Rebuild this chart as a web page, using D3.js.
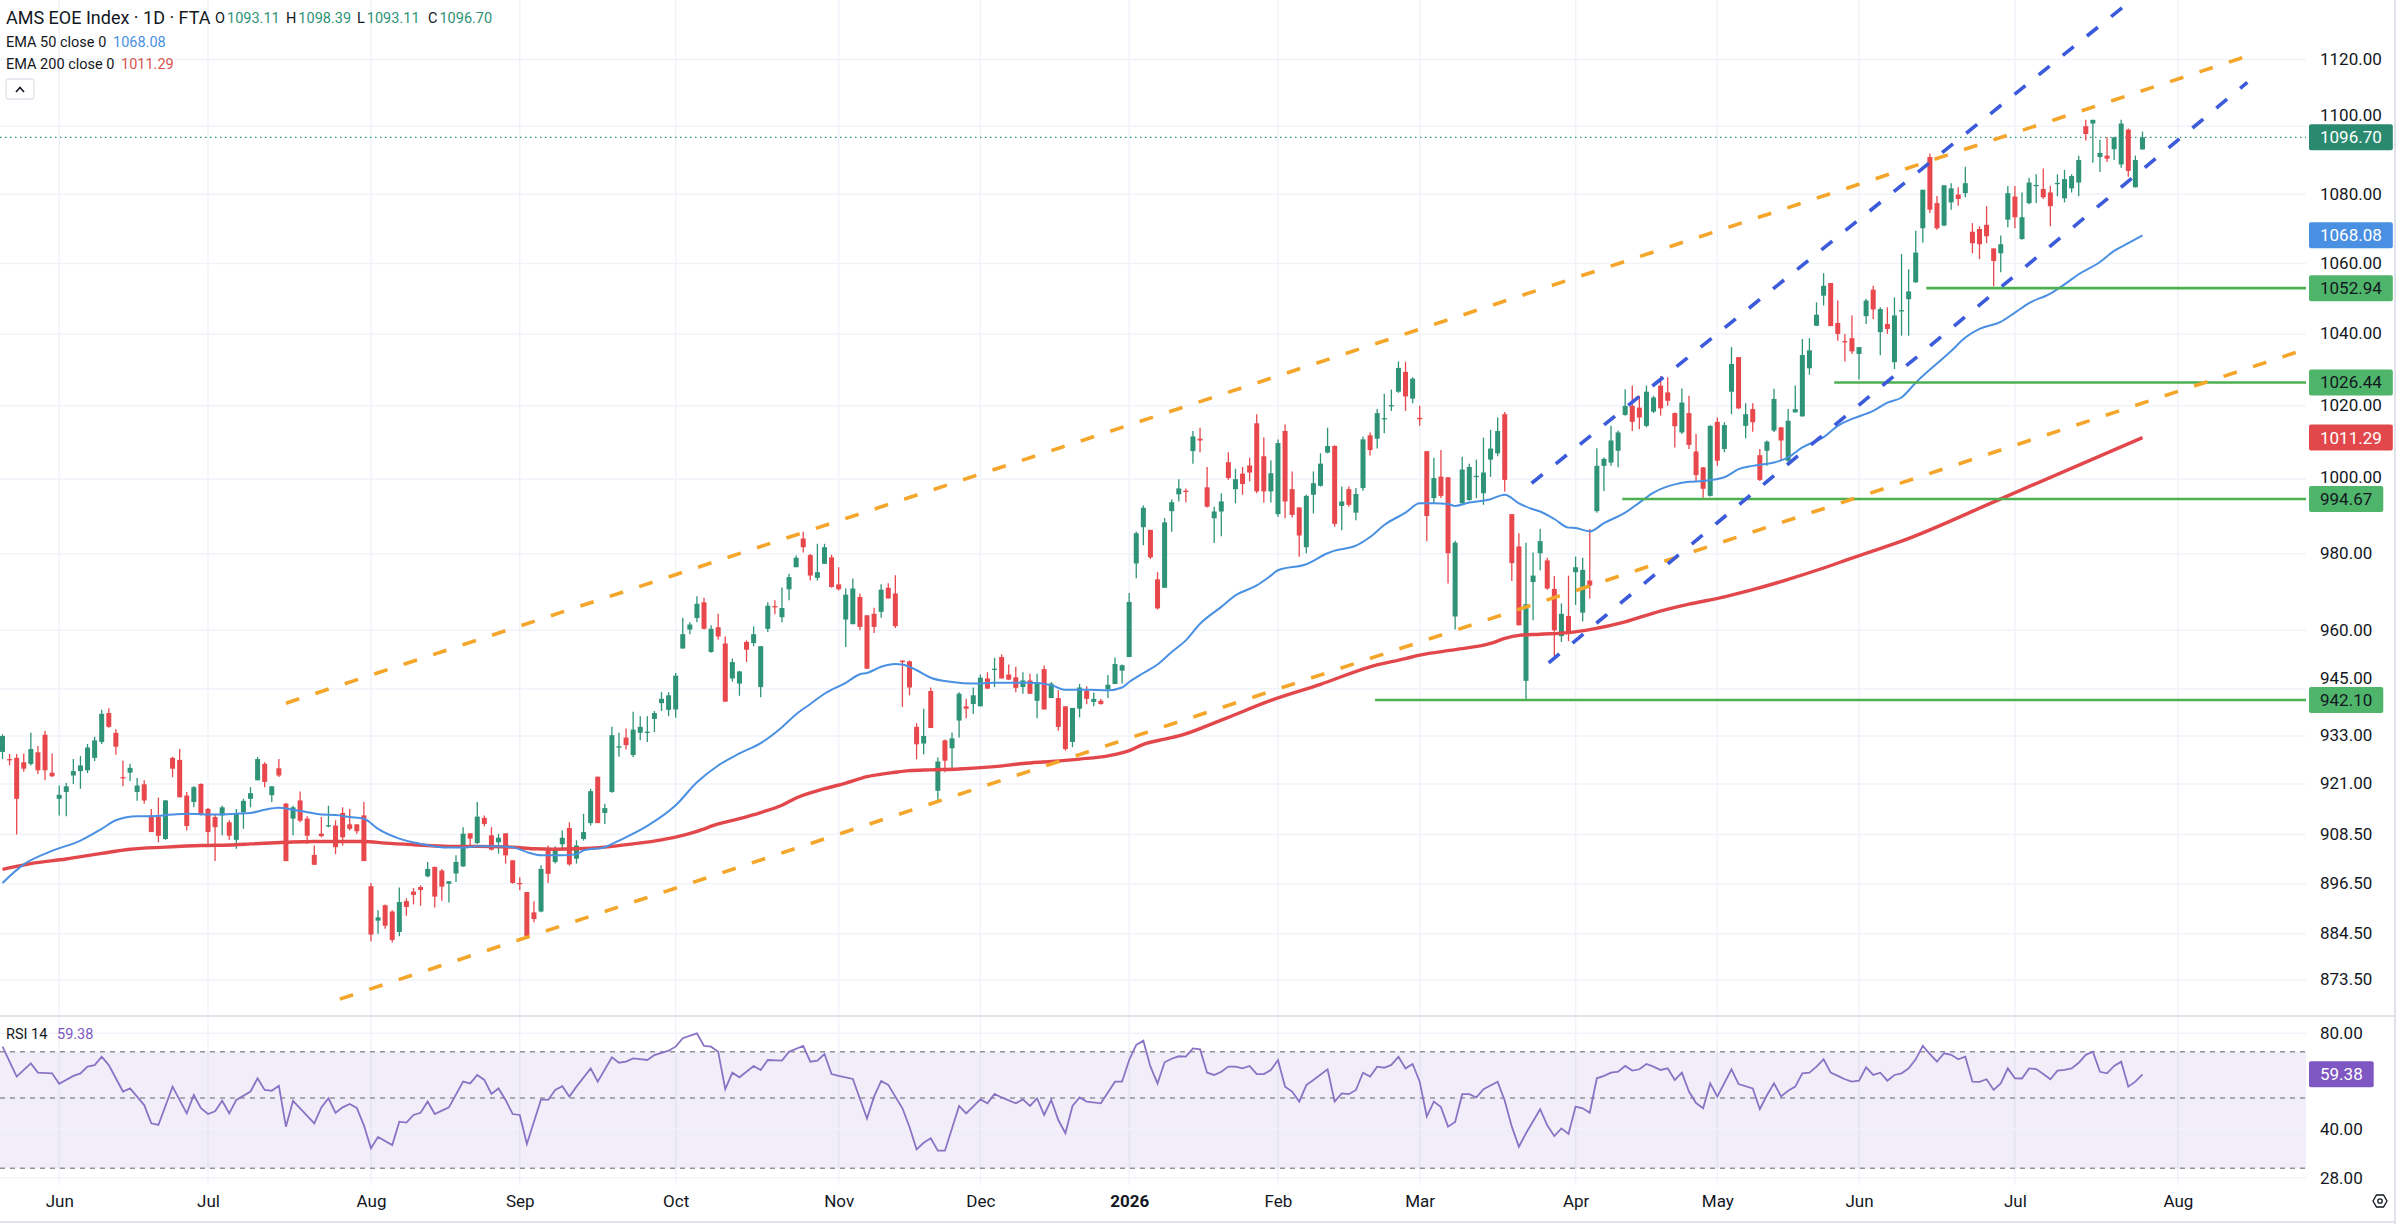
<!DOCTYPE html>
<html>
<head>
<meta charset="utf-8">
<script src="https://cdn.jsdelivr.net/npm/d3@7"></script>
<style>
  html, body { margin: 0; padding: 0; background: #ffffff; }
  svg { display: block; font-family: Roboto, "Noto Sans", "DejaVu Sans", sans-serif; }
</style>
</head>
<body>
<svg id="chart" width="2400" height="1224"></svg>
<script>
// ---------------- DATA ----------------
const firstTradingDay = "2025-05-21";
const holidays = ["2025-12-25", "2025-12-26", "2026-01-01", "2026-04-03", "2026-04-06", "2026-05-01"];

const open = [
929.0,927.2,927.5,926.4,926.0,928.9,933.3,923.8,917.3,919.0,
923.1,924.2,924.4,927.5,931.5,938.8,933.8,922.7,923.8,919.0,
920.9,913.2,912.8,907.4,927.5,927.0,918.1,916.5,921.0,914.8,
912.8,913.2,911.5,907.2,914.0,917.3,921.9,926.0,918.2,924.9,
916.1,912.4,916.9,912.4,903.5,908.7,910.6,910.7,913.8,911.0,
911.0,913.2,895.9,887.6,891.3,889.8,884.9,892.3,894.6,895.7,
898.3,900.6,899.7,896.5,899.0,900.7,908.8,906.4,912.6,908.3,
906.6,908.8,902.2,896.7,894.5,889.6,889.8,905.2,901.8,906.1,
910.1,902.6,907.4,911.3,922.8,913.8,919.0,930.3,932.6,928.2,
933.8,934.0,937.3,941.3,939.6,939.7,955.3,960.2,963.2,967.3,
954.4,960.8,956.6,947.6,946.3,957.0,956.7,945.4,960.4,966.3,
963.4,970.7,976.5,984.1,979.7,973.7,977.4,979.1,972.0,962.8,
961.6,968.7,963.9,964.3,964.8,971.1,969.6,952.2,952.0,935.3,
931.1,944.4,919.3,931.9,929.9,936.9,940.5,941.1,940.5,947.6,
950.0,953.1,948.6,947.9,945.4,947.1,941.9,950.0,942.6,942.6,
940.5,931.5,939.9,944.4,941.6,941.9,944.9,946.2,949.6,953.1,
977.5,987.1,986.4,973.3,971.1,991.4,995.9,996.9,1007.6,1011.0,
997.8,989.5,991.3,1004.6,997.3,1001.5,1003.7,1015.2,1006.2,996.7,
990.6,1013.1,997.3,992.4,981.8,995.8,998.2,1007.2,1009.0,992.8,
997.3,991.0,997.6,1011.9,1011.0,1016.4,1020.0,1023.9,1029.4,1022.0,
1016.7,1007.6,994.9,1000.7,1000.5,963.6,993.5,994.4,1000.7,996.2,
1005.3,1007.0,1017.7,990.6,982.0,947.0,972.6,980.2,978.3,970.8,
958.5,963.7,975.2,964.6,973.0,991.4,1003.6,1004.5,1007.7,1017.5,
1020.0,1019.5,1014.5,1018.4,1025.6,1023.7,1018.0,1012.7,1018.0,1007.5,
1003.2,995.5,1015.6,1008.2,1023.9,1033.5,1014.5,1019.1,1006.5,1007.7,
1013.2,1014.1,1005.0,1018.2,1017.1,1030.4,1042.3,1050.8,1054.4,1043.1,
1038.0,1038.8,1034.4,1045.0,1052.5,1040.5,1042.8,1032.1,1046.5,1049.8,
1054.6,1070.1,1090.9,1077.4,1070.9,1077.6,1079.9,1080.3,1069.1,1069.9,
1071.1,1064.3,1062.9,1072.6,1079.3,1067.0,1077.4,1082.5,1081.5,1080.5,
1083.1,1078.8,1081.7,1083.4,1100.0,1100.8,1090.9,1091.3,1093.2,1088.7,
1099.0,1082.0,1093.11
];
const high = [
933.4,928.5,928.5,928.6,933.8,930.5,934.3,928.6,920.6,921.2,
927.2,928.0,931.0,932.8,939.6,940.0,934.7,926.8,926.0,922.5,
921.9,914.8,917.6,917.0,927.8,929.7,919.0,920.4,921.1,915.0,
913.6,915.6,912.0,914.8,917.3,920.2,927.7,926.4,920.4,927.2,
916.3,915.6,919.1,913.0,905.8,912.8,915.6,912.0,915.2,914.8,
911.0,916.5,896.7,890.1,891.5,890.1,895.6,893.0,895.5,896.1,
901.8,900.6,900.1,897.1,903.4,910.3,908.8,916.5,913.2,910.3,
908.7,908.8,902.2,898.1,894.5,892.3,901.0,905.8,905.6,909.5,
911.5,907.1,913.6,919.8,922.8,916.1,935.3,933.8,934.9,939.1,
938.0,938.0,939.3,944.1,944.1,949.0,963.3,962.1,968.9,968.5,
961.3,964.3,958.4,952.7,949.6,957.4,961.0,955.9,967.3,967.8,
971.2,974.8,979.6,985.9,980.0,982.7,982.7,979.8,976.5,970.9,
973.5,969.6,963.9,965.9,972.0,972.3,974.4,952.2,952.2,936.2,
939.9,945.3,927.6,932.1,933.9,944.1,942.4,945.3,948.6,949.2,
952.9,953.8,951.2,950.6,949.2,948.8,948.8,950.9,946.7,944.6,
940.5,940.1,946.2,945.6,944.0,942.4,948.5,953.0,951.2,969.7,
985.9,992.9,986.4,975.2,989.6,994.5,1000.0,997.5,1013.1,1014.0,
1003.3,992.6,996.2,1007.3,1002.8,1003.3,1005.8,1017.7,1011.3,1005.1,
1010.8,1014.9,1002.1,992.4,995.8,1002.1,1007.0,1014.0,1009.2,998.0,
998.0,997.6,1011.6,1012.7,1019.1,1023.3,1024.5,1032.3,1032.2,1027.9,
1020.0,1007.6,1005.8,1007.9,1000.5,983.5,1006.1,1004.2,1005.3,1011.3,
1013.4,1016.8,1018.3,990.6,985.5,983.0,980.4,986.7,979.0,974.2,
967.0,974.3,979.3,979.0,986.6,1008.4,1005.9,1014.5,1013.2,1024.6,
1025.6,1022.8,1025.6,1022.8,1028.2,1027.9,1018.2,1024.8,1022.8,1012.3,
1003.2,1014.7,1016.8,1015.5,1036.3,1033.5,1020.7,1020.7,1008.2,1010.5,
1024.7,1014.1,1019.1,1025.6,1038.6,1038.8,1048.9,1057.2,1054.4,1049.4,
1040.0,1045.2,1036.3,1049.9,1053.6,1047.5,1047.5,1050.3,1062.7,1058.3,
1069.4,1081.3,1091.9,1079.5,1082.6,1083.2,1082.0,1088.0,1071.6,1070.7,
1076.5,1064.3,1068.0,1082.4,1082.4,1080.5,1084.8,1085.8,1087.5,1082.4,
1085.8,1087.1,1085.8,1091.3,1101.9,1101.9,1096.0,1096.7,1096.9,1101.9,
1099.3,1091.3,1098.39
];
const low = [
927.2,925.6,908.5,924.0,925.6,923.5,922.0,922.7,913.2,913.0,
921.0,919.8,923.7,926.7,931.0,935.1,928.3,920.4,921.7,916.8,
916.1,909.1,906.6,907.2,922.7,917.6,909.5,915.2,913.2,905.8,
902.0,908.3,907.2,905.0,909.9,915.2,921.9,920.2,916.5,922.7,
902.0,908.3,911.5,906.2,901.1,907.8,910.3,903.7,905.8,909.5,
908.7,902.0,882.6,884.5,885.7,882.4,883.9,888.8,891.5,891.2,
898.1,890.8,892.4,892.0,896.9,900.6,905.4,906.2,910.5,904.6,
903.8,901.4,896.5,894.9,883.7,887.2,889.6,896.7,901.4,904.6,
900.9,901.4,907.0,910.7,911.3,911.1,918.8,927.8,929.6,927.7,
931.9,931.5,934.0,939.3,938.0,937.6,955.3,959.0,962.1,960.2,
954.2,957.6,941.6,946.8,943.2,951.8,955.9,942.8,959.6,964.2,
962.1,967.8,976.5,980.4,973.0,973.0,977.4,971.1,970.4,955.7,
961.6,960.0,950.1,959.3,963.3,968.3,960.6,940.3,943.3,927.1,
928.4,935.0,916.8,923.9,924.5,932.6,937.5,938.6,940.5,945.0,
945.4,947.6,947.3,944.1,943.7,943.7,937.5,939.7,942.6,934.3,
929.3,930.2,937.7,941.0,940.5,940.9,942.6,946.2,946.3,953.1,
973.6,982.3,978.7,965.4,971.1,985.9,994.0,993.8,1004.2,1007.3,
992.4,982.9,984.7,999.8,993.5,995.8,999.4,996.2,993.7,993.7,
989.9,989.5,989.7,979.3,980.2,990.8,998.0,1007.0,987.2,986.3,
992.6,989.0,996.9,1006.4,1008.3,1012.5,1018.6,1023.6,1018.6,1020.7,
1014.5,983.4,993.5,994.9,972.2,960.2,993.1,994.2,994.9,993.1,
1000.6,1006.2,996.7,972.9,961.3,942.1,962.6,975.7,970.6,953.4,
957.0,957.2,966.6,962.3,968.3,991.0,996.8,1003.6,1003.2,1017.3,
1013.1,1013.6,1014.1,1018.0,1017.3,1020.0,1008.6,1012.3,1008.2,999.5,
995.0,995.3,1003.6,1007.3,1017.7,1019.1,1011.1,1012.9,999.5,1003.6,
1012.8,1005.0,1004.5,1018.2,1017.1,1028.6,1042.2,1048.0,1042.2,1038.1,
1032.3,1034.4,1027.3,1042.8,1044.2,1034.0,1040.0,1030.2,1039.5,1039.5,
1054.5,1066.0,1074.5,1069.7,1070.7,1075.5,1076.6,1079.1,1062.9,1061.2,
1065.8,1053.5,1057.5,1070.4,1070.1,1066.8,1077.1,1077.4,1078.6,1070.7,
1079.4,1077.6,1080.5,1079.4,1095.8,1089.2,1086.5,1089.4,1090.0,1087.7,
1085.1,1082.0,1093.11
];
const close = [
933.0,927.0,917.3,924.8,929.7,924.4,924.4,922.9,918.3,920.4,
924.2,925.6,930.1,931.9,938.6,935.3,930.3,922.6,925.0,920.6,
916.9,909.1,908.2,916.9,924.8,917.7,910.6,920.2,913.4,909.1,
910.3,915.2,908.2,913.8,916.8,918.7,927.2,921.5,920.4,923.1,
902.0,915.2,911.9,908.2,901.1,908.1,910.8,905.4,907.8,909.9,
909.3,902.0,884.3,888.4,886.4,883.0,892.1,890.9,893.8,895.0,
900.1,893.4,895.8,897.1,901.8,908.7,907.5,912.9,911.1,904.8,
907.7,903.4,896.7,896.6,883.9,888.0,900.1,898.9,904.6,907.7,
901.2,905.8,909.1,919.2,911.3,915.0,933.2,930.4,930.7,934.6,
935.3,934.1,938.8,942.4,943.3,948.3,959.0,961.5,966.9,960.4,
960.4,958.4,941.7,951.8,949.4,955.0,959.0,955.9,966.4,966.2,
965.8,973.9,979.0,981.8,974.3,975.2,981.8,971.3,970.7,969.3,
970.9,960.9,950.1,960.9,970.6,968.3,961.1,951.8,945.3,930.9,
933.0,935.0,926.6,926.8,932.4,943.7,939.9,943.3,947.8,945.0,
950.1,947.6,947.3,945.2,947.1,943.7,946.7,939.7,946.3,935.3,
929.7,940.1,945.3,942.4,942.4,941.1,946.0,951.3,951.0,967.4,
985.5,992.3,979.1,965.7,988.4,993.8,997.5,996.6,1011.6,1010.5,
992.6,991.3,994.0,1000.3,1000.0,998.7,1001.8,996.7,996.7,1001.6,
1009.8,994.0,990.4,984.9,995.5,998.9,1004.2,1009.0,988.0,994.0,
993.1,996.0,1010.8,1007.9,1018.0,1016.6,1020.2,1030.5,1022.6,1027.5,
1016.3,990.1,1000.3,995.5,980.2,983.0,1002.6,1003.3,1000.9,1001.8,
1008.3,1013.1,999.8,977.6,961.3,966.8,974.3,983.4,970.9,960.0,
964.3,959.4,976.5,975.8,971.7,1003.6,1005.5,1010.5,1012.7,1020.0,
1015.6,1016.8,1023.9,1022.3,1019.3,1021.4,1014.4,1020.9,1009.3,1001.1,
997.4,1014.5,1005.0,1014.7,1031.6,1019.3,1017.7,1015.5,999.8,1010.2,
1021.9,1010.5,1015.9,1019.1,1034.1,1035.4,1045.4,1053.6,1042.2,1040.0,
1037.9,1035.1,1036.3,1049.4,1046.9,1047.0,1041.4,1045.2,1046.7,1052.0,
1063.1,1081.3,1075.5,1070.1,1082.6,1081.7,1078.6,1083.2,1065.8,1065.5,
1067.8,1060.7,1065.5,1080.3,1073.3,1073.3,1083.4,1082.7,1079.1,1076.5,
1083.3,1084.4,1085.3,1090.0,1097.7,1101.9,1092.1,1090.4,1096.7,1100.8,
1086.8,1090.0,1096.70
];

// EMA 50 (bar index, value)
const ema50Idx = [0,3,7,11,14,16,19,21,24,26,30,33,35,37,39,41,43,45,47,49,51,53,56,59,63,65,67,70,72,74,76,79,81,82,85,87,91,95,98,101,104,107,110,112,114,116,119,121,122,124,126,127,129,131,134,137,140,143,145,148,150,153,156,158,159,161,163,165,167,169,172,174,177,179,180,184,187,188,191,193,195,198,200,202,204,205,207,210,212,214,216,217,219,221,222,224,226,229,231,233,236,238,240,243,245,247,250,252,254,257,259,261,264,266,268,270,275,277,279,282,284,286,289,291,293,296,298,300,302];
const ema50Val = [896.7,901.2,904.5,907.0,909.9,912.0,913.0,913.0,913.4,913.6,913.4,913.6,913.8,914.6,915.1,914.6,914.0,913.4,913.3,912.8,912.4,909.9,907.5,906.2,905.3,905.3,905.6,905.6,905.4,904.2,903.4,903.4,903.7,904.6,905.4,907.0,910.6,915.7,921.4,925.6,928.6,931.2,935.2,938.5,941.1,943.7,946.5,948.7,949.0,950.6,951.3,951.2,949.7,947.8,946.7,946.3,946.5,946.5,946.5,945.9,944.7,944.7,944.6,945.3,946.7,949.0,951.2,954.4,957.4,961.7,966.1,969.1,971.7,974.3,975.7,977.3,980.2,980.9,982.2,984.5,987.7,991.0,993.5,993.5,993.3,992.8,993.7,994.6,995.8,993.5,991.9,991.3,989.3,987.0,986.9,986.0,988.2,991.0,993.7,996.4,998.6,999.3,999.5,1000.5,1002.7,1003.6,1004.5,1005.9,1008.6,1011.4,1014.5,1016.4,1018.6,1020.9,1022.3,1026.4,1035.2,1039.0,1041.4,1043.4,1046.0,1048.7,1051.4,1054.0,1056.9,1060.4,1063.6,1065.8,1068.08];

// EMA 200 (bar index, value)
const ema200Idx = [0,4,9,14,18,23,28,33,35,40,44,49,51,54,58,63,67,72,75,78,81,85,89,93,96,98,101,104,107,110,112,116,119,122,126,128,131,135,140,144,148,152,156,159,161,164,166,172,179,186,193,198,200,205,210,212,214,217,221,224,229,233,238,243,247,252,257,261,264,268,282,302];
const ema200Val = [900.0,901.4,902.5,903.9,904.9,905.4,905.8,906.0,906.2,906.6,906.8,906.8,906.8,906.4,906.0,905.6,905.6,905.4,905.0,904.9,905.0,905.4,906.2,907.2,908.3,909.3,911.1,912.4,913.9,915.7,917.5,919.8,921.2,922.8,923.9,924.3,924.5,924.7,925.3,926.1,926.6,927.2,928.0,929.3,930.9,932.2,933.0,937.0,942.0,946.1,950.6,952.7,953.6,955.0,956.6,957.9,958.7,959.0,959.4,960.2,962.2,964.5,966.8,968.7,970.6,973.3,976.3,978.9,980.8,983.4,994.7,1011.29];

// RSI 14 (bar index, value)
const rsiIdx = [0,2,4,5,7,8,10,11,12,13,14,15,17,18,20,21,22,24,26,27,28,29,30,31,32,33,35,36,37,38,39,40,41,42,44,45,46,47,48,49,50,51,52,53,55,56,57,58,59,60,61,62,63,65,66,67,68,69,70,71,72,73,74,76,77,78,79,80,81,83,84,86,87,88,89,91,92,94,95,96,98,99,100,101,102,103,104,106,107,108,110,111,113,114,115,116,117,118,120,122,123,124,125,127,128,129,130,131,132,133,135,136,138,139,140,141,143,144,145,146,147,148,149,150,151,152,153,155,157,158,159,160,161,162,163,164,165,166,167,168,169,170,171,172,173,174,175,176,177,178,179,180,181,182,183,184,185,187,188,189,190,191,192,193,194,195,196,197,198,199,200,201,202,203,204,205,206,207,208,209,211,212,213,214,215,217,218,219,220,221,222,223,224,225,226,227,228,229,230,231,232,233,234,235,236,237,238,239,240,241,242,244,245,247,248,249,250,251,252,253,254,255,256,257,258,259,260,261,262,263,264,265,266,267,268,269,270,271,272,273,274,275,276,277,278,279,280,281,282,283,284,285,286,287,288,289,290,291,292,293,294,295,296,297,298,299,300,301,302];
const rsiVal = [72.6,58.4,64.3,60.1,59.8,55.4,58.7,59.8,62.8,63.5,67.5,63.5,52.4,53.6,47.5,41.6,41.1,54.3,44.7,51.1,46.4,44.5,45.4,49.0,44.7,49.3,52.4,57.7,53.0,52.7,54.6,40.6,49.0,46.4,41.6,46.7,49.9,44.9,46.7,47.9,46.5,41.0,34.7,37.7,35.5,42.1,41.8,44.2,44.9,48.7,44.5,45.6,46.7,56.3,55.6,59.1,57.0,51.5,53.6,49.3,44.5,44.2,35.8,49.5,49.3,53.0,54.5,50.5,54.3,62.0,56.3,67.2,64.6,65.1,66.7,65.9,68.3,70.5,72.6,77.2,80.0,73.0,72.6,70.0,53.3,60.1,58.1,63.1,61.3,65.9,65.6,70.0,73.0,65.1,65.6,68.8,59.5,58.7,57.4,43.1,50.5,56.6,55.0,46.4,40.5,34.4,36.1,37.3,34.1,34.1,47.2,44.7,49.5,48.1,51.5,50.2,48.1,49.5,47.2,49.9,44.2,49.3,42.6,38.7,47.2,50.2,48.7,48.1,56.3,56.3,65.9,73.5,75.8,62.8,55.6,64.8,66.5,67.7,67.5,71.7,71.2,60.1,59.1,60.5,62.8,62.8,62.0,63.1,59.5,59.5,61.3,65.9,54.3,52.4,48.7,54.9,57.0,61.6,48.7,51.7,51.4,53.0,60.1,58.4,62.8,62.3,63.6,67.5,62.0,64.0,56.3,43.7,48.7,46.8,40.6,42.0,51.4,51.4,50.2,53.3,56.3,49.0,40.6,35.1,38.7,46.1,41.0,37.9,40.1,38.5,47.0,46.4,44.9,57.7,58.7,60.1,60.5,63.1,61.0,61.6,64.0,62.8,61.3,62.0,57.0,60.1,52.4,48.2,46.4,55.6,50.5,61.6,55.3,53.6,46.1,51.0,55.6,50.6,52.7,54.3,59.8,60.1,62.8,66.2,60.1,58.7,57.3,56.3,56.7,62.5,59.1,60.1,56.7,59.1,59.8,62.0,66.2,73.0,68.8,65.1,69.2,68.4,66.2,67.5,56.3,56.2,57.3,53.0,55.6,62.0,57.7,57.6,62.0,61.7,59.5,57.3,61.0,61.3,62.0,64.6,68.4,70.0,60.5,59.8,63.1,65.1,54.3,56.3,59.38];

// Axis tick values
const priceTicks = [1120, 1100, 1080, 1060, 1040, 1020, 1000, 980, 960, 945, 933, 921, 908.5, 896.5, 884.5, 873.5];
const rsiTicks = [80, 40, 28];
const rsiBands = [70, 50, 30];

// Horizontal support rays: price level and starting bar index
const supportLevels = [1052.94, 1026.44, 994.67, 942.10];
const supportStart = [271.5, 258.5, 228.6, 193.7];

// Trend lines: [bar index, price] anchors
const upperOrange = [[40.0, 941.3], [317.6, 1121.6]];
const lowerOrange = [[47.6, 869.0], [325.3, 1035.9]];
const upperBlue = [[215.8, 998.9], [305.0, 1146.1]];
const lowerBlue = [[218.2, 951.6], [316.8, 1113.1]];

const emaLast50 = 1068.08, emaLast200 = 1011.29, rsiLast = 59.38;

// ---------------- CHART ----------------
const n = Math.min(open.length, high.length, low.length, close.length);
const svg = d3.select("#chart");
const FONT = "Roboto, 'Noto Sans', sans-serif";
const TXT = "#131722";
const UP = "#2e9377", DOWN = "#e8474c";
const GRID = "#f0f3fa";

const plotRight = 2306;
const mainTop = 0, mainBottom = 1015;
const rsiTop = 1017, rsiBottom = 1185;

// trading calendar (categories)
const parseDay = d3.utcParse("%Y-%m-%d");
const fmtDay = d3.utcFormat("%Y-%m-%d");
const calendar = [];
{
  let d = parseDay(firstTradingDay);
  while (calendar.length < n + 10) {
    const wd = d.getUTCDay();
    if (wd !== 0 && wd !== 6 && !holidays.includes(fmtDay(d))) calendar.push(d);
    d = d3.utcDay.offset(d, 1);
  }
}
const monthTicks = [];
for (let i = 1; i < calendar.length; i++) {
  if (calendar[i].getUTCMonth() !== calendar[i - 1].getUTCMonth()) monthTicks.push(i);
}

const x = d3.scaleLinear().domain([0, n - 1]).range([2.5, 2.5 + 7.086 * (n - 1)]);
const y = d3.scaleLog().domain([873.5, 1120]).range([980, 59.5]);
const yR = d3.scaleLog().domain([28, 80]).range([1177.8, 1033.3]);

// clip paths
const defs = svg.append("defs");
defs.append("clipPath").attr("id", "clipMain").append("rect")
  .attr("x", 0).attr("y", mainTop).attr("width", plotRight).attr("height", mainBottom - mainTop);
defs.append("clipPath").attr("id", "clipRsi").append("rect")
  .attr("x", 0).attr("y", rsiTop).attr("width", plotRight).attr("height", rsiBottom - rsiTop);
defs.append("clipPath").attr("id", "clipRsiAxis").append("rect")
  .attr("x", plotRight).attr("y", rsiTop).attr("width", 100).attr("height", rsiBottom - rsiTop);

// ---- grid ----
const grid = svg.append("g");
grid.selectAll(".hg").data(priceTicks).join("line")
  .attr("x1", 0).attr("x2", plotRight)
  .attr("y1", d => y(d)).attr("y2", d => y(d))
  .attr("stroke", GRID).attr("stroke-width", 1.5);
grid.selectAll(".vg").data(monthTicks).join("line")
  .attr("x1", d => x(d)).attr("x2", d => x(d))
  .attr("y1", mainTop).attr("y2", mainBottom)
  .attr("stroke", GRID).attr("stroke-width", 1.5);
grid.selectAll(".vg2").data(monthTicks).join("line")
  .attr("x1", d => x(d)).attr("x2", d => x(d))
  .attr("y1", rsiTop).attr("y2", rsiBottom)
  .attr("stroke", GRID).attr("stroke-width", 1.5);

// ---- RSI pane ----
const rsiG = svg.append("g").attr("clip-path", "url(#clipRsi)");
rsiG.append("rect")
  .attr("x", 0).attr("width", plotRight)
  .attr("y", yR(rsiBands[0])).attr("height", yR(rsiBands[2]) - yR(rsiBands[0]))
  .attr("fill", "rgba(126,87,194,0.10)");
rsiG.selectAll(".rg").data(rsiTicks).join("line")
  .attr("x1", 0).attr("x2", plotRight)
  .attr("y1", d => yR(d)).attr("y2", d => yR(d))
  .attr("stroke", GRID).attr("stroke-width", 1.5);
rsiG.selectAll(".rb").data(rsiBands).join("line")
  .attr("x1", 0).attr("x2", plotRight)
  .attr("y1", d => yR(d)).attr("y2", d => yR(d))
  .attr("stroke", "#8f929c").attr("stroke-width", 1.4).attr("stroke-dasharray", "5,5");
const rsiPts = rsiIdx.map((d, k) => [d, rsiVal[k]]);
rsiG.append("path").datum(rsiPts)
  .attr("d", d3.line().x(d => x(d[0])).y(d => yR(d[1])))
  .attr("fill", "none").attr("stroke", "#8a73c4").attr("stroke-width", 1.8);

// ---- main pane ----
const mainG = svg.append("g").attr("clip-path", "url(#clipMain)");

// last price dotted line
mainG.append("line")
  .attr("x1", 0).attr("x2", plotRight)
  .attr("y1", y(close[n - 1])).attr("y2", y(close[n - 1]))
  .attr("stroke", UP).attr("stroke-width", 1.3).attr("stroke-dasharray", "1.5,3.5");

// candles
const idx = d3.range(n);
const bodyW = 5;
mainG.selectAll(".wick").data(idx).join("line")
  .attr("x1", i => x(i)).attr("x2", i => x(i))
  .attr("y1", i => y(high[i])).attr("y2", i => y(low[i]))
  .attr("stroke", i => close[i] >= open[i] ? UP : DOWN).attr("stroke-width", 1.3);
mainG.selectAll(".body").data(idx).join("rect")
  .attr("x", i => x(i) - bodyW / 2).attr("width", bodyW)
  .attr("y", i => y(Math.max(open[i], close[i])))
  .attr("height", i => Math.max(1.3, y(Math.min(open[i], close[i])) - y(Math.max(open[i], close[i]))))
  .attr("fill", i => close[i] >= open[i] ? UP : DOWN);

// EMAs
const emaLine = d3.line().x(d => x(d[0])).y(d => y(d[1])).curve(d3.curveMonotoneX);
mainG.append("path").datum(ema200Idx.map((d, k) => [d, ema200Val[k]]))
  .attr("d", emaLine).attr("fill", "none").attr("stroke", "#e2474b").attr("stroke-width", 3.4);
mainG.append("path").datum(ema50Idx.map((d, k) => [d, ema50Val[k]]))
  .attr("d", emaLine).attr("fill", "none").attr("stroke", "#4a90e2").attr("stroke-width", 2);

// support rays
mainG.selectAll(".sup").data(supportLevels).join("line")
  .attr("x1", (d, k) => x(supportStart[k])).attr("x2", plotRight)
  .attr("y1", d => y(d)).attr("y2", d => y(d))
  .attr("stroke", "#4caf50").attr("stroke-width", 2.6);

// trend lines
const tl = d3.line().x(d => x(d[0])).y(d => y(d[1]));
[[upperOrange, "#f4a62a"], [lowerOrange, "#f4a62a"], [upperBlue, "#3b5bdb"], [lowerBlue, "#3b5bdb"]].forEach(([pts, col]) => {
  mainG.append("path").datum(pts).attr("d", tl)
    .attr("fill", "none").attr("stroke", col).attr("stroke-width", 3.6)
    .attr("stroke-dasharray", "14,17").attr("stroke-linecap", "butt");
});

// ---- separators / borders ----
svg.append("line").attr("x1", 0).attr("x2", 2395).attr("y1", 1016).attr("y2", 1016)
  .attr("stroke", "#e0e3eb").attr("stroke-width", 2);
svg.append("line").attr("x1", 2395).attr("x2", 2395).attr("y1", 0).attr("y2", 1224)
  .attr("stroke", "#e0e3eb").attr("stroke-width", 2);
svg.append("line").attr("x1", 0).attr("x2", 2395).attr("y1", 1222).attr("y2", 1222)
  .attr("stroke", "#e0e3eb").attr("stroke-width", 2);

// ---- price axis ----
// value boxes shown on the axis (main pane)
const boxValues = supportLevels.concat([emaLast200, emaLast50, close[n - 1]]);
const minGap = 21.5;
function nudged(v) {
  // keep a tick label clear of any value box, shifting it away from the box
  let py = y(v);
  boxValues.forEach(b => {
    const by = y(b);
    if (Math.abs(py - by) < minGap) py = py <= by ? by - minGap : by + minGap;
  });
  return py;
}
const yAxis = d3.axisRight(y).tickValues(priceTicks).tickFormat(d3.format(".2f")).tickSize(0).tickPadding(0);
const gy = svg.append("g").attr("transform", "translate(2320,0)").call(yAxis);
gy.select(".domain").remove();
gy.selectAll(".tick").attr("transform", d => `translate(0,${nudged(d)})`);
gy.selectAll("text").attr("font-size", 17).attr("fill", TXT).attr("font-family", FONT);

const rAxis = d3.axisRight(yR).tickValues(rsiTicks).tickFormat(d3.format(".2f")).tickSize(0).tickPadding(0);
const gr = svg.append("g").attr("clip-path", "url(#clipRsiAxis)").append("g")
  .attr("transform", "translate(2320,0)").call(rAxis);
gr.select(".domain").remove();
gr.selectAll("text").attr("font-size", 17).attr("fill", TXT).attr("font-family", FONT);

// axis value labels
function axisLabel(scale, value, bg, fg) {
  const g = svg.append("g");
  const t = g.append("text").attr("x", 2320).attr("y", scale(value)).attr("dy", "0.35em")
    .attr("font-size", 17).attr("font-family", FONT).attr("fill", fg).text(d3.format(".2f")(value));
  const w = t.node().getComputedTextLength();
  g.insert("rect", "text").attr("x", 2309).attr("y", scale(value) - 13)
    .attr("width", w + 22).attr("height", 26).attr("rx", 2).attr("fill", bg);
}
supportLevels.forEach(v => axisLabel(y, v, "#4fb56a", "#131722"));
axisLabel(y, emaLast200, "#e2474b", "#ffffff");
axisLabel(y, emaLast50, "#4a90e2", "#ffffff");
axisLabel(y, close[n - 1], "#2a8a70", "#ffffff");
axisLabel(yR, rsiLast, "#7e57c2", "#ffffff");

// ---- time axis ----
const monthFmt = d3.utcFormat("%b"), yearFmt = d3.utcFormat("%Y");
const xAxis = d3.axisBottom(x).tickValues(monthTicks)
  .tickFormat(i => calendar[i].getUTCMonth() === 0 ? yearFmt(calendar[i]) : monthFmt(calendar[i]))
  .tickSize(0).tickPadding(0);
const gx = svg.append("g").attr("transform", "translate(0,1195)").call(xAxis);
gx.select(".domain").remove();
gx.selectAll("text").attr("font-size", 17).attr("fill", TXT).attr("font-family", FONT)
  .attr("font-weight", i => calendar[i].getUTCMonth() === 0 ? 700 : 400);

// ---- legends ----
svg.append("text").attr("x", 6).attr("y", 24).attr("font-size", 18).attr("font-family", FONT)
  .attr("fill", TXT).text("AMS EOE Index · 1D · FTA");
const ohlcLab = ["O", "H", "L", "C"];
const ohlcVal = [open[n - 1], high[n - 1], low[n - 1], close[n - 1]];
ohlcLab.forEach((lab, k) => {
  const t = svg.append("text").attr("x", 215 + k * 71).attr("y", 23)
    .attr("font-size", 14.5).attr("font-family", FONT);
  t.append("tspan").attr("fill", TXT).text(lab);
  t.append("tspan").attr("dx", 2).attr("fill", UP).text(d3.format(".2f")(ohlcVal[k]));
});
svg.append("text").attr("x", 6).attr("y", 47).attr("font-size", 14.5).attr("font-family", FONT)
  .attr("fill", TXT).text("EMA 50 close 0");
svg.append("text").attr("x", 113).attr("y", 47).attr("font-size", 14.5).attr("font-family", FONT)
  .attr("fill", "#4a90e2").text(d3.format(".2f")(emaLast50));
svg.append("text").attr("x", 6).attr("y", 69).attr("font-size", 14.5).attr("font-family", FONT)
  .attr("fill", TXT).text("EMA 200 close 0");
svg.append("text").attr("x", 121).attr("y", 69).attr("font-size", 14.5).attr("font-family", FONT)
  .attr("fill", "#d9534f").text(d3.format(".2f")(emaLast200));
// collapse button
svg.append("rect").attr("x", 6).attr("y", 79).attr("width", 28).attr("height", 20).attr("rx", 3)
  .attr("fill", "#fff").attr("stroke", "#e0e3eb").attr("stroke-width", 1.3);
svg.append("path").attr("d", "M16,92 L20,87.5 L24,92").attr("fill", "none")
  .attr("stroke", TXT).attr("stroke-width", 1.6);

svg.append("text").attr("x", 6).attr("y", 1039).attr("font-size", 14.5).attr("font-family", FONT)
  .attr("fill", TXT).text("RSI 14");
svg.append("text").attr("x", 57).attr("y", 1039).attr("font-size", 14.5).attr("font-family", FONT)
  .attr("fill", "#7e57c2").text(d3.format(".2f")(rsiLast));

// settings icon
svg.append("path")
  .attr("d", "M2373,1201 L2376.5,1195 L2383.5,1195 L2387,1201 L2383.5,1207 L2376.5,1207 Z")
  .attr("fill", "none").attr("stroke", "#131722").attr("stroke-width", 1.3);
svg.append("circle").attr("cx", 2380).attr("cy", 1201).attr("r", 2.2)
  .attr("fill", "none").attr("stroke", "#131722").attr("stroke-width", 1.3);
</script>
</body>
</html>
